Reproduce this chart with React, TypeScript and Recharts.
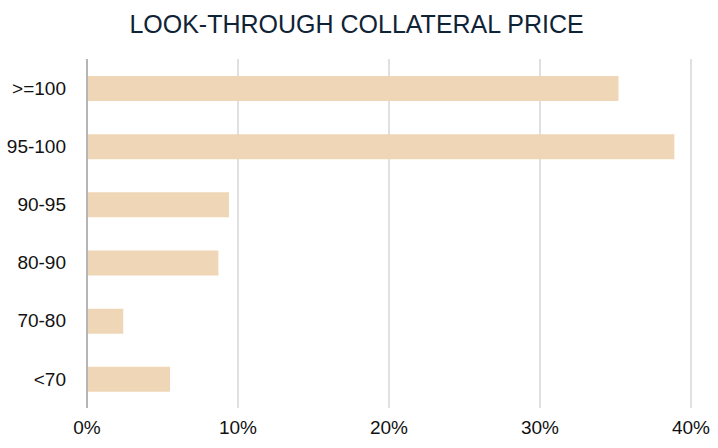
import { BarChart, Bar, XAxis, YAxis, CartesianGrid } from "recharts";

const categories = [">=100", "95-100", "90-95", "80-90", "70-80", "<70"];
const shares = [35.2, 38.9, 9.4, 8.7, 2.4, 5.5];
const xTicks = [0, 10, 20, 30, 40];

const data = categories.map((name, i) => ({ name, value: shares[i] }));

const font = "'Liberation Sans', Arial, Helvetica, sans-serif";

export default function App() {
    return (
        <div style={{ position: "fixed", left: 0, top: 0, width: 718, height: 448, background: "#fff" }}>
            <div
                style={{
                    position: "absolute",
                    left: 0,
                    top: 9,
                    width: 713,
                    textAlign: "center",
                    fontFamily: font,
                    fontSize: 25,
                    color: "#0f2336",
                    lineHeight: "30px",
                }}>
                LOOK-THROUGH COLLATERAL PRICE
            </div>
            <BarChart
                layout="vertical"
                width={718}
                height={448}
                data={data}
                margin={{ top: 59, right: 27, bottom: 0, left: 0 }}>
                <CartesianGrid horizontal={false} stroke="#d6d6d6" strokeWidth={1.5} />
                <XAxis
                    type="number"
                    domain={[0, 40]}
                    ticks={xTicks}
                    tickFormatter={(v: number) => `${v}%`}
                    axisLine={false}
                    tickLine={false}
                    tickSize={0}
                    tickMargin={13}
                    height={40}
                    interval={0}
                    tick={{ fill: "#111", fontSize: 19, fontFamily: font }}
                />
                <YAxis
                    type="category"
                    dataKey="name"
                    width={87}
                    axisLine={{ stroke: "#b5b5b5", strokeWidth: 2 }}
                    tickLine={false}
                    tickSize={0}
                    tickMargin={21}
                    interval={0}
                    tick={{ fill: "#111", fontSize: 19, fontFamily: font }}
                />
                <Bar dataKey="value" fill="#efd6b7" barSize={25} isAnimationActive={false} />
            </BarChart>
        </div>
    );
}
